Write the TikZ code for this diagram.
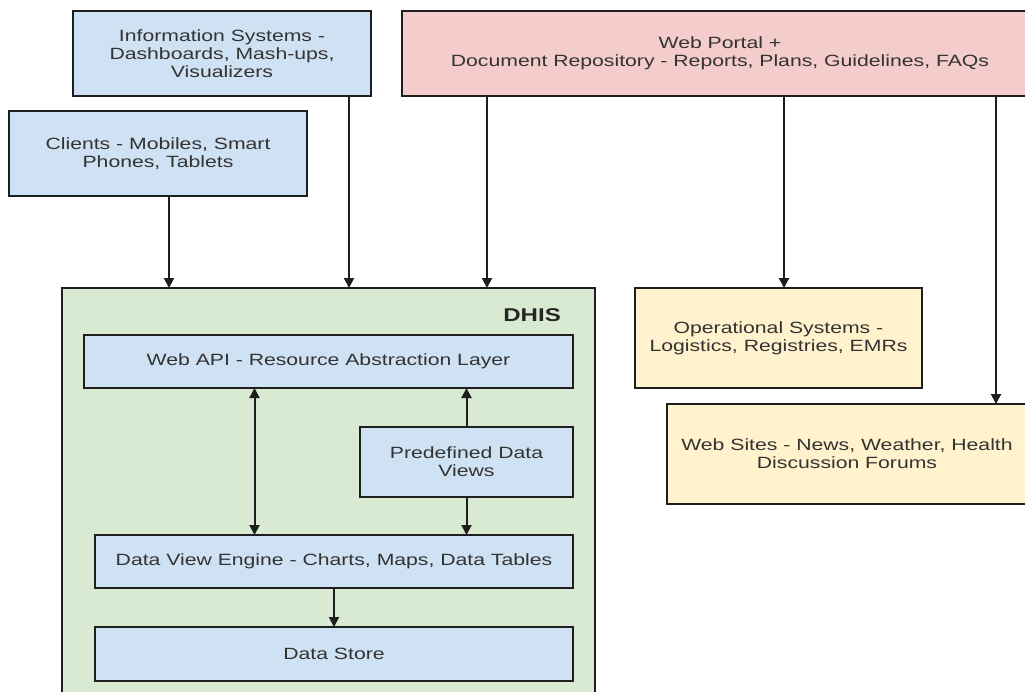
\documentclass[tikz,border=0pt]{standalone}
\usepackage{fontspec}
\setmainfont{Liberation Sans}[FakeStretch=1.3]
\usetikzlibrary{arrows.meta,calc}
\definecolor{bluef}{HTML}{CFE2F3}
\definecolor{greenf}{HTML}{D9EAD3}
\definecolor{pinkf}{HTML}{F4CCCC}
\definecolor{yellowf}{HTML}{FFF2CC}
\definecolor{edge}{HTML}{1E1E1E}
\definecolor{txt}{HTML}{333333}
\begin{document}
\begin{tikzpicture}[x=1pt,y=-1pt,
  box/.style={draw=edge, line width=1.8pt, inner sep=0pt, outer sep=0pt, align=center,
    font=\fontsize{16.3}{18}\selectfont, text=txt},
  bluebox/.style={box, fill=bluef},
  pinkbox/.style={box, fill=pinkf},
  yellowbox/.style={box, fill=yellowf},
  greenbox/.style={box, fill=greenf},
  arr/.style={draw=edge, line width=2pt, -{Triangle[width=10pt,length=10pt]}},
  darr/.style={draw=edge, line width=2pt, {Triangle[width=10pt,length=10pt]}-{Triangle[width=10pt,length=10pt]}},
  lbl/.style={font=\bfseries\fontsize{18.5}{20}\selectfont, text=black!85, inner sep=0pt}]
\useasboundingbox (0,0) rectangle (1025,691);
\clip (0,0) rectangle (1025,691);
\fill[white] (0,0) rectangle (1025,691);

\node[bluebox, minimum width=298pt, minimum height=85pt] (info) at (222,53.5)
  {Information Systems -\\Dashboards, Mash-ups,\\Visualizers};
\node[pinkbox, minimum width=636pt, minimum height=85pt] (portal) at (720,53.5)
  {Web Portal +\\Document Repository - Reports, Plans, Guidelines, FAQs};
\node[bluebox, minimum width=298pt, minimum height=85pt] (clients) at (158,153.5)
  {Clients - Mobiles, Smart\\Phones, Tablets};

\node[greenbox, minimum width=533pt, minimum height=432pt] (dhis) at (328.5,504) {};
\node[lbl, anchor=east] (dhislbl) at (561,315) {DHIS};

\node[bluebox, minimum width=489pt, minimum height=53pt] (webapi) at (328.5,361.5)
  {Web API - Resource Abstraction Layer};
\node[bluebox, minimum width=213pt, minimum height=70pt] (predef) at (466.5,462)
  {Predefined Data\\Views};
\node[bluebox, minimum width=478pt, minimum height=53pt] (dve) at (334,561.5)
  {Data View Engine - Charts, Maps, Data Tables};
\node[bluebox, minimum width=478pt, minimum height=54pt] (store) at (334,654)
  {Data Store};

\node[yellowbox, minimum width=287pt, minimum height=100pt] (oper) at (778.5,338)
  {Operational Systems -\\Logistics, Registries, EMRs};
\node[yellowbox, minimum width=360pt, minimum height=100pt] (sites) at (847,454)
  {Web Sites - News, Weather, Health\\Discussion Forums};

\coordinate (c1) at (169,0);
\coordinate (c2) at (349,0);
\coordinate (c3) at (487,0);
\coordinate (c4) at (784,0);
\coordinate (c5) at (996,0);
\coordinate (c6) at (254.5,0);

\draw[arr] (clients.south -| c1) -- (dhis.north -| c1);
\draw[arr] (info.south -| c2) -- (dhis.north -| c2);
\draw[arr] (portal.south -| c3) -- (dhis.north -| c3);
\draw[arr] (portal.south -| c4) -- (oper.north -| c4);
\draw[arr] (portal.south -| c5) -- (sites.north -| c5);
\draw[darr] (webapi.south -| c6) -- (dve.north -| c6);
\draw[arr] (predef.north) -- (webapi.south -| predef.north);
\draw[arr] (predef.south) -- (dve.north -| predef.south);
\draw[arr] (dve.south) -- (store.north);
\end{tikzpicture}
\end{document}
